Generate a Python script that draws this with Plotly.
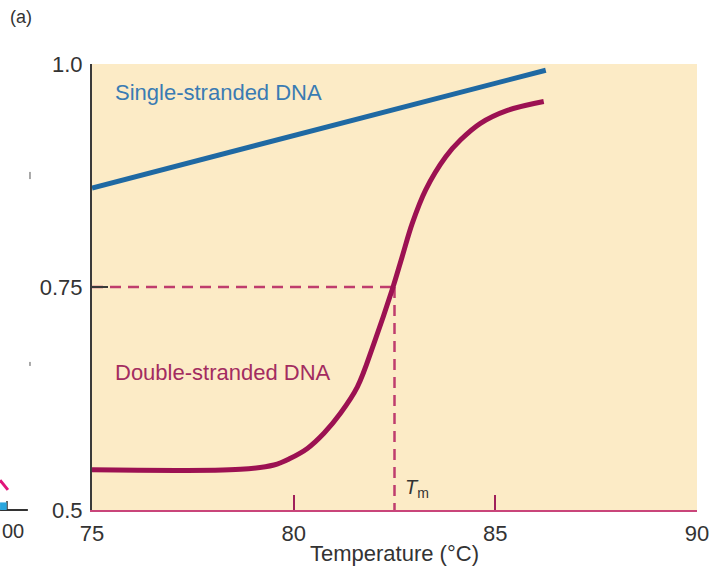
import plotly.graph_objects as go

# Relative absorbance vs temperature for DNA melting
ss_temp = [75.0, 86.25]
ss_abs = [0.861, 0.993]

ds_temp = [75.0, 78.68, 79.51, 79.92, 80.34, 80.75, 81.16, 81.58, 82.0,
           82.44, 82.69, 82.94, 83.27, 83.77, 84.14, 84.63, 85.3, 86.2]
ds_abs = [0.545, 0.5456, 0.5504, 0.558, 0.569, 0.586, 0.6084, 0.638, 0.688,
          0.7466, 0.784, 0.8214, 0.8587, 0.896, 0.915, 0.9335, 0.948, 0.958]

tm = 82.5
tm_abs = 0.75
y_min, y_max = 0.5, 1.0
x_min, x_max = 75, 90

x_ticks = [75, 80, 85, 90]
y_ticks = [0.5, 0.75, 1.0]
y_tick_text = ["0.5", "0.75", "1.0"]

FONT = "Liberation Sans, Arial, Helvetica, sans-serif"
BLUE = "#1f69a3"
MAROON = "#9c1152"
DASH = "#bf3d6d"

fig = go.Figure()

# Tm guide lines
fig.add_trace(go.Scatter(x=[x_min, tm], y=[tm_abs, tm_abs], mode="lines",
                         line=dict(color=DASH, width=2.5, dash="11px,7px"),
                         hoverinfo="skip", showlegend=False))
fig.add_trace(go.Scatter(x=[tm, tm], y=[tm_abs, y_min], mode="lines",
                         line=dict(color=DASH, width=2.5, dash="11px,7px"),
                         hoverinfo="skip", showlegend=False))

fig.add_trace(go.Scatter(x=ss_temp, y=ss_abs, mode="lines",
                         line=dict(color=BLUE, width=5),
                         showlegend=False))
fig.add_trace(go.Scatter(x=ds_temp, y=ds_abs, mode="lines",
                         line=dict(color=MAROON, width=5, shape="spline", smoothing=1.0),
                         showlegend=False))

annotations = [
    dict(x=75.53, y=0.9686, xref="x", yref="y", text="Single-stranded DNA",
         showarrow=False, xanchor="left", yanchor="middle",
         font=dict(family=FONT, size=22, color="#3a7bb3")),
    dict(x=75.53, y=0.6547, xref="x", yref="y", text="Double-stranded DNA",
         showarrow=False, xanchor="left", yanchor="middle",
         font=dict(family=FONT, size=22, color="#a32c60")),
    dict(x=82.7, y=0.524, xref="x", yref="y", text="<i>T</i><sub>m</sub>",
         showarrow=False, xanchor="left", yanchor="middle",
         font=dict(family=FONT, size=20, color="#333333")),
    # x-axis title
    dict(x=0.5, y=-0.131, xref="paper", yref="paper", text="Temperature (°C)",
         showarrow=False, xanchor="center", yanchor="bottom",
         font=dict(family=FONT, size=22, color="#333333")),
    dict(x=-0.139, y=1.105, xref="paper", yref="paper", text="(a)",
         showarrow=False, xanchor="left", yanchor="middle",
         font=dict(family=FONT, size=18, color="#333333")),
    # edge of the neighbouring panel
    dict(x=-0.152, y=-0.018, xref="paper", yref="paper", text="00",
         showarrow=False, xanchor="left", yanchor="top",
         font=dict(family=FONT, size=20, color="#333333")),
]

shapes = [
    dict(type="line", xref="paper", yref="paper", x0=-0.152, x1=-0.106,
         y0=0, y1=0, line=dict(color="#333333", width=2)),
    dict(type="line", xref="paper", yref="paper", x0=-0.1405, x1=-0.1405,
         y0=0, y1=0.02, line=dict(color="#333333", width=1.5)),
    dict(type="rect", xref="paper", yref="paper", x0=-0.152, x1=-0.141,
         y0=0, y1=0.017, line=dict(width=0), fillcolor="#2aa6de"),
    dict(type="line", xref="paper", yref="paper", x0=-0.152, x1=-0.139,
         y0=0.067, y1=0.045, line=dict(color="#e0157a", width=3)),
    dict(type="line", xref="paper", yref="paper", x0=-0.1025, x1=-0.1025,
         y0=0.742, y1=0.758, line=dict(color="#555555", width=1)),
    dict(type="line", xref="paper", yref="paper", x0=-0.1025, x1=-0.1025,
         y0=0.323, y1=0.332, line=dict(color="#555555", width=1)),
]

fig.update_layout(
    width=718, height=569,
    margin=dict(l=92, r=21, t=64, b=59, autoexpand=False),
    paper_bgcolor="white",
    plot_bgcolor="#fcebc6",
    font=dict(family=FONT, size=20, color="#333333"),
    annotations=annotations,
    shapes=shapes,
    showlegend=False,
)

fig.update_xaxes(
    range=[x_min, x_max], tickvals=x_ticks, ticktext=[str(v) for v in x_ticks],
    showgrid=False, zeroline=False, automargin=False,
    showline=True, linecolor="#c9457a", linewidth=2,
    ticks="inside", ticklen=15, tickwidth=2, tickcolor="#a0205a",
    tickfont=dict(family=FONT, size=22, color="#333333"),
    ticklabelstandoff=3,
)
fig.update_yaxes(
    range=[y_min, y_max], tickvals=y_ticks, ticktext=y_tick_text,
    showgrid=False, zeroline=False, automargin=False,
    showline=True, linecolor="#3a3a3a", linewidth=2,
    ticks="inside", ticklen=16, tickwidth=2, tickcolor="#3a3a3a",
    tickfont=dict(family=FONT, size=22, color="#333333"),
    ticklabelstandoff=3,
)

fig.write_html("out.html")
